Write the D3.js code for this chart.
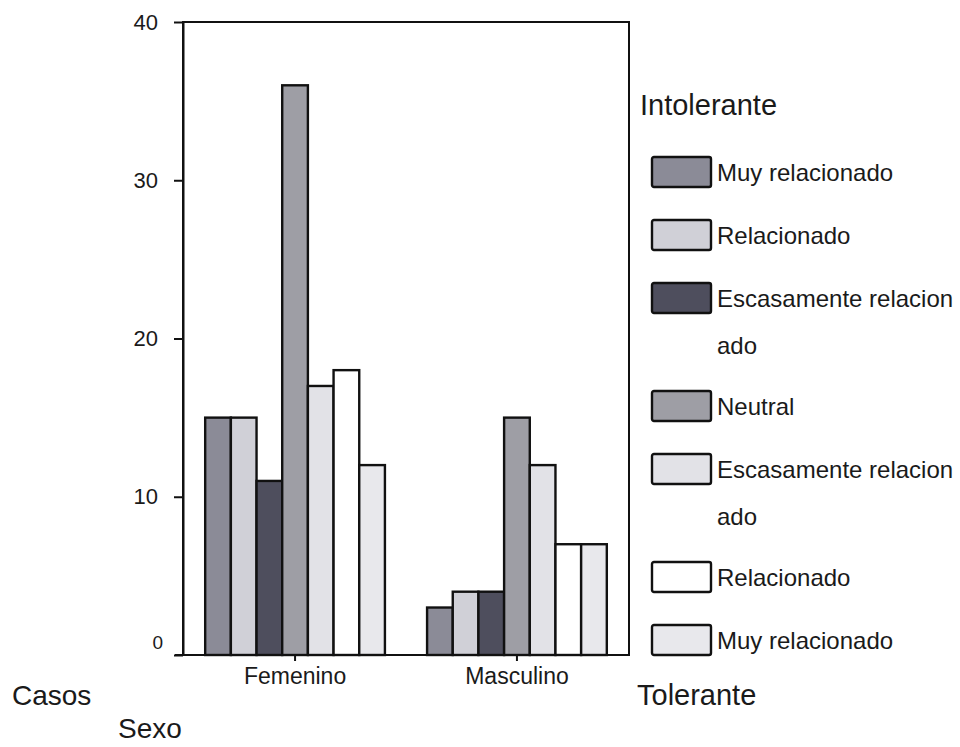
<!DOCTYPE html>
<html>
<head>
<meta charset="utf-8">
<script src="https://cdn.jsdelivr.net/npm/d3@7"></script>
<style>
  body { margin: 0; background: #fff; }
  svg { font-family: "Liberation Sans", Arial, sans-serif; }
</style>
</head>
<body>
<div id="chart"></div>
<script>
// Data
const categories = ["Femenino", "Masculino"];
const seriesLabels = [
    ["Muy relacionado"],
    ["Relacionado"],
    ["Escasamente relacion", "ado"],
    ["Neutral"],
    ["Escasamente relacion", "ado"],
    ["Relacionado"],
    ["Muy relacionado"]
];
const femeninoValues = [15, 15, 11, 36, 17, 18, 12];
const masculinoValues = [3, 4, 4, 15, 12, 7, 7];
const yTicks = [0, 10, 20, 30, 40];
const seriesColors = ["#8b8b97", "#d0d0d7", "#4e4e5d", "#9e9ea5", "#e2e2e7", "#ffffff", "#e8e8ec"];

const width = 960, height = 747;
const plot = { left: 183, right: 629, top: 22, bottom: 655 };
const textColor = "#1a1a1a";

const svg = d3.select("#chart").append("svg")
    .attr("width", width)
    .attr("height", height);

const rows = categories.map((c, i) => ({
    cat: c,
    values: i === 0 ? femeninoValues : masculinoValues
}));

// Scales
const x0 = d3.scaleBand()
    .domain(categories)
    .range([plot.left, plot.right])
    .paddingInner(0.19)
    .paddingOuter(0.1);

const x1 = d3.scaleBand()
    .domain(d3.range(seriesLabels.length))
    .range([0, x0.bandwidth()]);

const y = d3.scaleLinear()
    .domain([0, 40])
    .range([plot.bottom, plot.top]);

// Frame (top and right borders)
svg.append("rect")
    .attr("x", plot.left)
    .attr("y", plot.top)
    .attr("width", plot.right - plot.left)
    .attr("height", plot.bottom - plot.top)
    .attr("fill", "none")
    .attr("stroke", "#111")
    .attr("stroke-width", 2);

// Bars
svg.append("g")
    .selectAll("g")
    .data(rows)
    .join("g")
    .attr("transform", d => `translate(${x0(d.cat)},0)`)
    .selectAll("rect")
    .data(d => d.values.map((v, i) => ({ i, v })))
    .join("rect")
    .attr("x", d => x1(d.i))
    .attr("y", d => y(d.v))
    .attr("width", x1.bandwidth())
    .attr("height", d => y(0) - y(d.v))
    .attr("fill", d => seriesColors[d.i])
    .attr("stroke", "#111")
    .attr("stroke-width", 2.4);

// Y axis
const yAxis = svg.append("g")
    .attr("transform", `translate(${plot.left},0)`)
    .call(d3.axisLeft(y).tickValues(yTicks).tickSize(9).tickSizeOuter(0).tickPadding(16));
yAxis.selectAll("path, line").attr("stroke", "#111").attr("stroke-width", 2);
yAxis.selectAll("text")
    .attr("font-size", d => d === 0 ? 19 : 22)
    .attr("fill", textColor)
    .attr("font-family", "Liberation Sans, Arial, sans-serif");
// the zero label sits a little higher and further right in the original
yAxis.selectAll(".tick").filter(d => d === 0).select("text")
    .attr("x", -20)
    .attr("y", -13);

// X axis
const xAxis = svg.append("g")
    .attr("transform", `translate(0,${plot.bottom})`)
    .call(d3.axisBottom(x0).tickSize(6).tickSizeOuter(0).tickPadding(7));
xAxis.select(".domain").attr("d", `M${plot.left - 8},0H${plot.right}`);
xAxis.selectAll("path, line").attr("stroke", "#111").attr("stroke-width", 2);
xAxis.selectAll("text")
    .attr("font-size", 23)
    .attr("fill", textColor)
    .attr("font-family", "Liberation Sans, Arial, sans-serif");

// Axis titles
svg.append("text").attr("x", 12).attr("y", 705)
    .attr("font-size", 28).attr("fill", textColor).text("Casos");
svg.append("text").attr("x", 118).attr("y", 738)
    .attr("font-size", 28).attr("fill", textColor).text("Sexo");

// Legend
svg.append("text").attr("x", 640).attr("y", 115)
    .attr("font-size", 29).attr("fill", textColor).text("Intolerante");
svg.append("text").attr("x", 637).attr("y", 705)
    .attr("font-size", 29).attr("fill", textColor).text("Tolerante");

let ly = 157;
const legend = svg.append("g");
seriesLabels.forEach((lines, i) => {
    const g = legend.append("g").attr("transform", `translate(652,${ly})`);
    g.append("rect")
        .attr("width", 59)
        .attr("height", 30)
        .attr("rx", 2)
        .attr("fill", seriesColors[i])
        .attr("stroke", "#111")
        .attr("stroke-width", 2.4);
    lines.forEach((t, k) => {
        g.append("text")
            .attr("x", 65)
            .attr("y", 15 + k * 47)
            .attr("dy", "0.36em")
            .attr("font-size", 24)
            .attr("fill", textColor)
            .text(t);
    });
    ly += 63 + 45 * (lines.length - 1);
});
</script>
</body>
</html>
